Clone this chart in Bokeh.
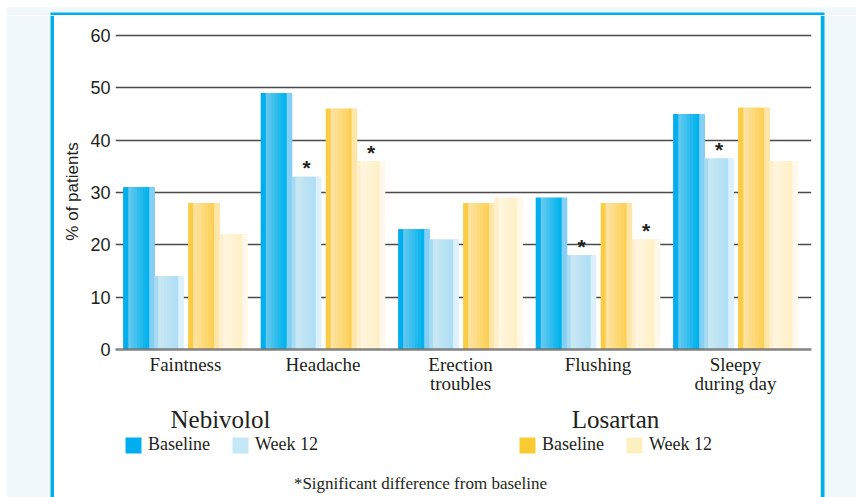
from bokeh.plotting import figure
from bokeh.layouts import row, column
from bokeh.models import (ColumnDataSource, FixedTicker, Range1d, BoxAnnotation,
                          Label, Legend, LegendItem)
from bokeh.core.properties import value
from bokeh.embed import file_html
from bokeh.resources import INLINE

# ---------------- data ----------------
categories = ["Faintness", "Headache", "Erection\ntroubles", "Flushing", "Sleepy\nduring day"]
nebivolol_baseline = [31, 49, 23, 29, 45]
nebivolol_week12 = [14, 33, 21, 18, 36.5]
losartan_baseline = [28, 46, 28, 28, 46.2]
losartan_week12 = [22, 36, 29, 21, 36]
nebivolol_significant = [False, True, False, True, True]
losartan_significant = [False, True, False, True, False]
y_ticks = [0, 10, 20, 30, 40, 50, 60]
series_labels = ["Baseline", "Week 12"]
drug_names = ["Nebivolol", "Losartan"]
footnote = "*Significant difference from baseline"

# ---------------- style constants ----------------
TEXT = "#231f20"
SERIF = "Liberation Serif"
SANS = "Liberation Sans"
LIGHT = "#f0f8fc"
BLUE = "#00aeef"
PAGE_W, PAGE_H = 856, 497
PANEL_X0, PANEL_X1 = 54, 820      # white panel (inside blue border)
TOP_H = 15                         # height of top decoration strip
CHART_H = 386                      # chart figure height
BOTTOM_H = PAGE_H - TOP_H - CHART_H
PANEL_W = PANEL_X1 - PANEL_X0
ML, MR, MT, MB = 61, 9, 18, 52     # chart borders -> frame at page x 115..811


def deco_fig(w, h):
    f = figure(width=w, height=h, output_backend="svg", toolbar_location=None,
               x_range=Range1d(0, w), y_range=Range1d(0, h),
               x_axis_type=None, y_axis_type=None, min_border=0)
    f.outline_line_color = None
    f.background_fill_color = "white"
    f.border_fill_color = "white"
    return f


def deco_box(f, h, x0, x1, y0, y1, color):
    # y0/y1 measured downward from the top of figure f
    f.add_layout(BoxAnnotation(left=x0, right=x1, top=h - y0, bottom=h - y1,
                               fill_color=color, fill_alpha=1, line_color=None))


# ---------------- chart figure ----------------
FW = PANEL_W - ML - MR
FH = CHART_H - MT - MB
PY = 314.0 / 60.0     # pixels per % unit
PX = 137.5            # pixels per category step
x_start = -70.0 / PX

p = figure(width=PANEL_W, height=CHART_H, output_backend="svg", toolbar_location=None,
           x_range=Range1d(x_start, x_start + FW / PX), y_range=Range1d(0, FH / PY),
           min_border_left=ML, min_border_right=MR, min_border_top=MT,
           min_border_bottom=MB)
p.background_fill_color = "white"
p.border_fill_color = "white"
p.outline_line_color = None


def hex2rgb(h):
    h = h.lstrip("#")
    return tuple(int(h[i:i + 2], 16) for i in (0, 2, 4))


def rgb2hex(c):
    return "#%02x%02x%02x" % tuple(int(round(v)) for v in c)


def strip_specs(x0, w, lw, rw, c_left, g_from, g_to, c_right, n=7):
    specs = [(x0, lw, c_left)]
    gw = w - lw - rw
    a, b = hex2rgb(g_from), hex2rgb(g_to)
    for k in range(n):
        t = k / (n - 1)
        col = rgb2hex([a[j] + (b[j] - a[j]) * t for j in range(3)])
        specs.append((x0 + lw + gw * k / n, gw / n, col))
    specs.append((x0 + w - rw, rw, c_right))
    return specs


bar_styles = [
    (nebivolol_baseline, "#00aeef", -62, 31, 5, 5, "#00aeef", "#62c8ee", "#00b3ed", "#84cff3"),
    (nebivolol_week12, "#c5e8f7", -31, 29, 4, 5, "#a6dbf2", "#c9e7f3", "#afdff4", "#dcf1fb"),
    (losartan_baseline, "#f8cb30", 3, 31, 5, 5, "#fdcc45", "#fde3a2", "#fdd157", "#fee6aa"),
    (losartan_week12, "#fdf0c0", 34, 28, 4, 5, "#fff0cb", "#fff6e0", "#fff0c6", "#fff8ec"),
]

for vals, lcol, x0, w, lw, rw, cl, gf, gt, cr in bar_styles:
    xs = [i + (x0 + w / 2) / PX for i in range(len(categories))]
    p.vbar(x=xs, top=vals, bottom=0, width=w / PX, fill_color=lcol, line_color=None)
    sx, sw, st, sc = [], [], [], []
    for i, v in enumerate(vals):
        for left, ww, col in strip_specs(x0, w, lw, rw, cl, gf, gt, cr):
            sx.append(i + (left + ww / 2) / PX)
            sw.append((ww + 0.6) / PX)
            st.append(v)
            sc.append(col)
    src = ColumnDataSource(dict(x=sx, w=sw, top=st, color=sc))
    p.vbar(x="x", width="w", top="top", bottom=0, source=src,
           fill_color="color", line_color=None)

# significance asterisks
ax, ay = [], []
for i in range(len(categories)):
    if nebivolol_significant[i]:
        ax.append(i + (-31 + 29 / 2) / PX)
        ay.append(nebivolol_week12[i])
    if losartan_significant[i]:
        ax.append(i + (34 + 28 / 2) / PX)
        ay.append(losartan_week12[i])
p.text(x=ax, y=ay, text=["*"] * len(ax), text_align="center",
       text_baseline="middle", y_offset=-9, text_color=TEXT,
       text_font=value(SANS), text_font_style="bold", text_font_size="21px")

# axes & grid
p.xgrid.visible = False
p.ygrid.ticker = FixedTicker(ticks=y_ticks)
p.ygrid.grid_line_color = "#4a4a4a"
p.ygrid.grid_line_width = 1.5

yax = p.yaxis[0]
yax.ticker = FixedTicker(ticks=y_ticks)
yax.axis_line_color = None
yax.major_tick_line_color = None
yax.minor_tick_line_color = None
yax.major_tick_out = 0
yax.major_tick_in = 0
yax.minor_tick_out = 0
yax.major_label_standoff = 5
yax.major_label_text_font = SANS
yax.major_label_text_font_size = "18px"
yax.major_label_text_color = TEXT
yax.axis_label = "% of patients"
yax.axis_label_text_font = SANS
yax.axis_label_text_font_size = "17px"
yax.axis_label_text_font_style = "normal"
yax.axis_label_text_color = TEXT
yax.axis_label_standoff = 5

xax = p.xaxis[0]
xax.ticker = FixedTicker(ticks=list(range(len(categories))))
xax.major_label_overrides = {i: c for i, c in enumerate(categories)}
xax.axis_line_color = "#6e6e6e"
xax.axis_line_width = 2.5
xax.axis_line_alpha = 0.85
xax.major_tick_line_color = None
xax.minor_tick_line_color = None
xax.major_tick_out = 0
xax.major_tick_in = 0
xax.minor_tick_out = 0
xax.major_label_standoff = 4
xax.major_label_text_font = SERIF
xax.major_label_text_font_size = "19px"
xax.major_label_text_color = TEXT
xax.major_label_text_line_height = 0.95

# ---------------- bottom figure: titles, legends, footnote ----------------
# frame aligned with chart frame; x data = page x, y data = pixels above page bottom
FX0 = PANEL_X0 + ML
FX1 = PANEL_X1 - MR
b = figure(width=PANEL_W, height=BOTTOM_H, output_backend="svg", toolbar_location=None,
           x_range=Range1d(FX0, FX1), y_range=Range1d(0, BOTTOM_H),
           x_axis_type=None, y_axis_type=None,
           min_border_left=ML, min_border_right=MR, min_border_top=0, min_border_bottom=0)
b.outline_line_color = None
b.background_fill_color = "white"
b.border_fill_color = "white"

legend_colors = [["#00aeef", "#c5e8f7"], ["#f8cb30", "#fdf0c0"]]
legend_left = [125, 519]     # page x of the first legend square
title_center = [220, 615]
for k in range(2):
    rs = [b.vbar(x=[FX0 - 10], top=[0], width=0, fill_color=c, line_color=None)
          for c in legend_colors[k]]
    leg = Legend(items=[LegendItem(label=series_labels[j], renderers=[rs[j]]) for j in range(2)],
                 location=(legend_left[k] - 2 - FX0, 42), orientation="horizontal",
                 glyph_width=20, glyph_height=20, label_height=20,
                 label_standoff=5, spacing=20, padding=0, margin=0,
                 border_line_color=None, background_fill_alpha=0,
                 label_text_font=SERIF, label_text_font_size="18px",
                 label_text_color=TEXT)
    b.add_layout(leg)
    b.add_layout(Label(x=title_center[k], y=PAGE_H - 419, text=drug_names[k],
                       text_align="center", text_baseline="alphabetic", text_font=SERIF,
                       text_font_size="25px", text_color=TEXT))
b.add_layout(Label(x=420, y=PAGE_H - 483, text=footnote, text_align="center",
                   text_baseline="alphabetic", text_font=SERIF,
                   text_font_size="17px", text_color=TEXT))

# ---------------- decoration: light background and blue frame ----------------
SIDE_H = PAGE_H - TOP_H
left = deco_fig(PANEL_X0, SIDE_H)
deco_box(left, SIDE_H, 6, PANEL_X0 - 4, 0, SIDE_H, LIGHT)
deco_box(left, SIDE_H, PANEL_X0 - 4, PANEL_X0, 0, SIDE_H, BLUE)

right = deco_fig(PAGE_W - PANEL_X1, SIDE_H)
deco_box(right, SIDE_H, 4, PAGE_W - PANEL_X1, 0, SIDE_H, LIGHT)
deco_box(right, SIDE_H, 0, 4, 0, SIDE_H, BLUE)

top = deco_fig(PAGE_W, TOP_H)
deco_box(top, TOP_H, 6, PAGE_W, 7, TOP_H, LIGHT)
deco_box(top, TOP_H, PANEL_X0 - 4, PANEL_X1 + 4, 12, TOP_H, BLUE)

layout = column(top, row(left, column(p, b, spacing=0), right, spacing=0), spacing=0)

open("out.html", "w").write(file_html(layout, INLINE))
